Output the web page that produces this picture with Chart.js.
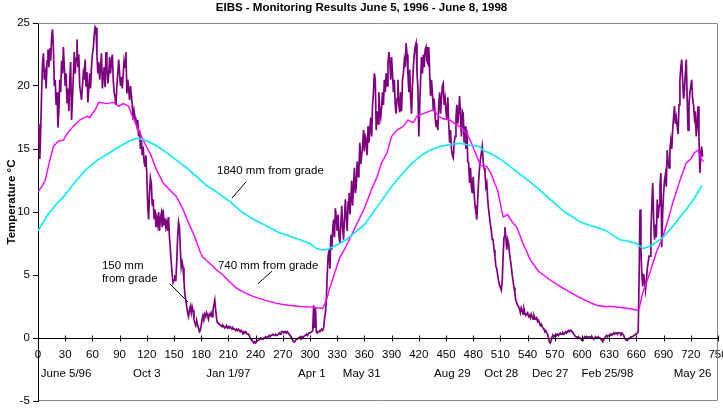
<!DOCTYPE html>
<html><head><meta charset="utf-8">
<script src="https://cdn.jsdelivr.net/npm/chart.js@4/dist/chart.umd.min.js"></script>
<style>html,body{margin:0;padding:0;background:#fff}</style>
</head><body>
<canvas id="c" width="723" height="413"></canvas>
<script>
const chartTitle = 'EIBS - Monitoring Results June 5, 1996 - June 8, 1998';
const yAxisTitle = 'Temperature °C';
const xTickValues = [0,30,60,90,120,150,180,210,240,270,300,330,360,390,420,450,480,510,540,570,600,630,660,690,720,750];
const yTickValues = [-5,0,5,10,15,20,25];
const dateLabels = ['June 5/96','Oct 3','Jan 1/97','Apr 1','May 31','Aug 29','Oct 28','Dec 27','Feb 25/98','May 26'];
const dateLabelDays = [0,120,210,300,360,450,510,570,630,720];
const seriesNames = ['150 mm from grade','740 mm from grade','1840 mm from grade'];

// 150 mm from grade: daily readings, day 0 = June 5, 1996
const temp150 = [
15.5,17.0,14.2,16.5,19.5,21.8,22.6,20.5,21.0,19.8,
22.0,22.9,21.5,23.0,22.0,23.8,24.5,23.0,20.0,20.5,
18.5,19.5,16.7,18.0,20.5,19.5,22.0,21.0,23.1,21.5,
20.0,21.0,18.7,19.8,18.0,20.5,21.9,17.3,19.0,20.8,
22.7,21.0,22.2,23.7,21.5,22.5,20.0,19.5,18.9,20.0,
21.0,20.5,22.1,20.0,21.1,18.7,19.8,21.0,19.8,21.5,
22.5,23.0,24.0,24.7,24.6,22.5,21.0,21.9,20.5,21.5,
22.6,19.8,20.8,21.5,19.9,22.7,21.5,20.2,20.9,22.3,
21.0,22.0,22.5,20.5,19.5,19.1,18.5,20.0,21.0,22.1,
21.0,20.0,20.7,19.8,21.0,22.0,21.5,22.7,19.4,20.5,
19.8,18.9,20.0,19.2,18.5,17.3,18.0,17.5,17.1,16.8,
17.3,16.0,16.5,15.0,15.8,14.5,15.2,14.0,13.6,14.5,
13.0,10.5,9.4,11.5,12.7,12.3,10.5,11.0,9.5,10.2,
8.8,9.5,9.0,10.0,8.5,9.5,9.9,8.8,10.2,9.0,
9.5,8.8,9.2,8.5,9.6,8.0,7.0,6.0,5.0,4.4,
4.6,5.0,4.5,6.0,8.0,9.2,8.8,7.0,5.6,6.0,
5.6,4.5,3.5,3.0,2.5,2.0,1.7,2.2,2.5,2.0,
2.5,2.2,1.5,1.2,1.0,1.4,1.0,0.8,0.5,0.6,
1.0,1.5,1.8,1.6,1.9,1.7,2.0,1.8,1.5,1.9,
1.8,2.0,1.7,2.2,2.6,3.0,2.2,1.5,1.2,1.2,
1.1,1.0,1.0,0.9,1.0,0.9,0.8,0.9,1.0,0.8,
0.9,0.8,0.9,0.8,0.7,0.8,0.7,0.7,0.6,0.7,
0.6,0.7,0.6,0.5,0.6,0.5,0.4,0.5,0.4,0.5,
0.4,0.3,0.3,0.2,0.0,-0.1,-0.2,-0.3,-0.4,-0.3,
-0.4,-0.3,-0.2,-0.2,-0.1,-0.1,0.0,0.0,-0.1,0.0,
0.0,0.1,0.0,0.1,0.1,0.2,0.1,0.2,0.2,0.3,
0.2,0.2,0.3,0.2,0.2,0.3,0.4,0.3,0.4,0.5,
0.5,0.4,0.5,0.5,0.4,0.5,0.4,0.3,0.2,0.1,
0.0,-0.2,-0.3,-0.3,-0.2,-0.1,-0.1,0.0,0.0,0.1,
0.0,0.1,0.0,0.1,0.2,0.2,0.3,0.2,0.3,0.4,
0.4,0.4,0.5,0.6,2.6,0.8,2.4,0.5,0.4,0.5,
0.5,0.6,0.6,0.7,0.6,0.8,1.5,2.0,3.0,5.0,
6.5,7.0,5.5,8.2,7.0,8.5,9.4,8.0,10.3,9.5,
8.5,9.8,8.0,7.5,9.0,10.5,8.8,7.8,9.5,11.0,
9.5,8.5,10.8,11.5,9.8,11.0,12.5,10.5,12.0,13.5,
11.5,12.0,14.0,12.8,13.5,15.5,13.8,14.5,15.2,16.5,
14.8,16.0,15.7,14.5,16.8,15.5,16.5,17.5,16.0,18.5,
19.5,21.0,20.5,16.5,18.0,17.0,19.5,18.0,17.5,18.4,
19.5,18.5,20.5,19.5,21.0,20.0,21.8,22.7,22.0,20.5,
22.3,21.0,19.5,20.5,18.5,17.8,19.0,20.5,18.5,17.9,
19.5,18.0,20.5,21.0,22.0,21.5,23.4,22.5,21.0,19.5,
21.3,19.0,17.8,20.0,21.5,22.5,23.1,23.4,21.0,19.9,
16.0,18.5,20.5,22.3,21.0,22.5,21.5,22.9,23.1,22.0,
21.8,23.1,21.0,19.2,20.5,19.5,18.0,19.0,17.5,16.8,
17.3,16.5,18.5,19.5,17.8,19.0,20.0,20.2,18.5,19.0,
18.0,17.3,19.1,17.0,15.5,16.5,15.0,14.5,14.3,15.5,
16.0,17.5,18.5,17.0,18.0,19.2,17.5,16.0,18.0,17.8,
15.5,16.8,15.0,16.5,14.0,13.9,12.3,13.5,12.0,11.5,
12.8,11.5,10.5,10.0,9.4,11.0,12.5,13.5,14.2,14.7,
15.2,14.0,13.5,13.1,12.0,12.3,11.0,10.2,9.6,9.0,
8.5,7.8,7.8,7.0,6.5,5.7,5.5,5.0,4.5,4.2,
4.0,3.8,4.5,6.5,8.0,8.8,8.0,7.0,7.8,7.5,
6.8,6.2,5.7,5.0,4.5,4.0,3.5,3.0,2.8,2.6,
2.5,2.3,2.0,2.4,2.2,1.9,2.3,2.0,1.8,1.9,
2.0,1.7,1.8,1.6,1.9,1.7,1.5,1.8,1.6,1.5,
1.6,1.3,1.4,1.2,1.0,1.1,0.9,0.8,0.7,0.5,
0.6,0.4,0.3,0.0,-0.3,-0.4,-0.2,0.1,0.2,0.1,
0.2,0.3,0.2,0.3,0.2,0.3,0.4,0.3,0.3,0.4,
0.3,0.4,0.5,0.4,0.5,0.6,0.5,0.6,0.6,0.5,
0.4,0.3,0.2,0.1,0.1,0.0,0.1,0.0,0.0,-0.1,
-0.2,-0.1,0.0,0.1,0.0,0.1,0.0,0.1,0.1,0.1,
0.0,0.1,0.0,-0.1,0.0,0.1,0.0,0.0,0.1,0.0,
0.0,-0.1,-0.2,-0.3,-0.1,0.0,0.1,0.2,0.1,0.2,
0.2,0.3,0.2,0.3,0.3,0.4,0.3,0.4,0.4,0.3,
0.4,0.4,0.4,0.3,0.4,0.3,0.2,0.0,-0.1,-0.2,
-0.2,-0.1,0.0,0.0,0.1,0.1,0.1,0.2,0.2,0.3,
0.3,0.4,0.5,5.0,10.2,7.0,5.0,4.1,5.1,4.5,
3.8,4.5,5.5,6.0,6.5,6.5,8.5,10.5,12.3,9.5,
7.8,9.0,8.0,11.0,9.5,10.5,12.0,13.1,7.2,10.0,
11.5,12.5,13.0,12.0,14.9,14.0,13.5,15.0,15.7,15.0,
16.5,17.5,18.4,17.0,17.5,16.8,16.2,18.5,20.5,21.5,
22.1,20.5,19.0,19.7,21.0,22.1,19.0,16.5,18.5,19.5,
20.0,20.5,19.0,18.5,17.5,18.0,16.0,17.0,18.4,16.0,
13.1,14.5,15.2,14.4
];

// 740 mm from grade
const days740 = [0,4,8,12,17,22,28,32,39,46,54,57,63,67,76,83,89,94,100,103,111,118,124,131,138,146,153,160,168,172,179,182,190,197,204,212,220,228,237,250,263,276,289,302,314,318,322,326,333,340,350,360,368,374,379,385,390,396,403,408,414,418,425,432,436,442,447,454,460,465,473,478,484,488,495,500,507,513,518,523,528,535,543,552,565,578,590,603,616,625,634,645,655,660,663,667,675,682,689,695,700,708,715,720,724,728,731,734];
const temp740 = [11.6,12.0,12.5,13.8,15.2,15.6,15.7,16.2,16.8,17.3,17.6,17.5,18.1,18.7,18.6,18.7,18.4,18.6,18.4,17.8,16.5,15.4,14.6,13.3,12.3,11.7,11.2,10.2,8.8,8.2,6.8,6.4,5.9,5.4,5.0,4.4,3.9,3.6,3.3,3.0,2.75,2.6,2.5,2.45,2.35,3.0,4.0,4.9,6.4,7.3,8.8,10.3,11.8,12.8,13.9,14.7,16.0,16.5,16.8,17.3,17.1,17.6,17.8,18.0,18.1,17.6,17.4,17.3,17.0,16.8,16.25,15.5,14.4,13.7,13.6,13.0,11.7,9.6,9.8,9.2,8.8,7.5,6.2,5.3,4.6,4.0,3.5,3.0,2.6,2.5,2.5,2.4,2.3,2.2,2.3,3.6,5.2,6.8,8.0,9.4,10.7,12.5,13.9,14.2,14.7,14.9,14.3,14.0];

// 1840 mm from grade
const days1840 = [0,10,20,28,40,52,65,79,90,100,109,118,130,142,153,164,175,186,197,212,225,238,252,265,277,289,300,307,312,318,324,330,340,350,360,370,380,390,399,410,421,432,443,454,465,476,487,491,500,510,517,528,541,554,568,581,590,598,610,620,627,635,642,650,660,664,667,672,678,688,697,706,715,724,732];
const temp1840 = [8.5,9.7,10.6,11.2,12.3,13.3,14.1,14.7,15.2,15.6,15.85,15.7,15.3,14.7,14.1,13.5,12.8,12.1,11.6,10.8,10.0,9.4,8.9,8.4,8.1,7.8,7.5,7.1,7.0,7.0,7.2,7.4,7.8,8.4,9.0,10.0,11.0,12.0,12.8,13.7,14.4,14.9,15.2,15.35,15.45,15.3,15.2,14.9,14.6,14.2,13.8,13.2,12.5,11.7,10.8,10.0,9.6,9.2,8.9,8.7,8.5,8.1,7.8,7.7,7.5,7.3,7.1,7.2,7.4,7.9,8.6,9.4,10.2,11.1,12.1];

const FONT = "'Liberation Sans', Arial, Helvetica, sans-serif";
Chart.defaults.font.family = FONT;
Chart.defaults.font.size = 11.5;
Chart.defaults.color = '#000';

// callout texts (anchored in data units) and leader lines
const callouts = [
  {lines: ['1840 mm from grade'], at: [197.5, 13.25], leader: [[214, 11.1], [229.5, 12.4]]},
  {lines: ['740 mm from grade'], at: [198.5, 5.7], leader: [[242.5, 4.3], [258, 5.3]]},
  {lines: ['150 mm', 'from grade'], at: [70.5, 5.7], leader: [[145.5, 4.3], [165.5, 2.85]]}
];
const dateLabelAnchor = [31, 120, 210, 302, 357, 457, 511, 565, 628, 722];

const overlay = {
  id: 'overlay',
  afterDraw(chart) {
    const {ctx, chartArea: a, scales: {x, y}} = chart;
    ctx.save();
    // plot frame
    ctx.strokeStyle = '#8a8a8a';
    ctx.lineWidth = 1;
    ctx.beginPath();
    ctx.moveTo(a.left, Math.round(a.top) + 0.5);
    ctx.lineTo(Math.round(a.right) - 0.5, Math.round(a.top) + 0.5);
    ctx.lineTo(Math.round(a.right) - 0.5, Math.round(a.bottom) - 0.5);
    ctx.lineTo(a.left + 1, Math.round(a.bottom) - 0.5);
    ctx.stroke();
    // x axis at 0 with crossing ticks
    const y0 = Math.round(y.getPixelForValue(0)) + 0.5;
    ctx.strokeStyle = '#000';
    ctx.beginPath();
    ctx.moveTo(a.left, y0); ctx.lineTo(a.right, y0);
    xTickValues.forEach(v => {
      const px = Math.round(x.getPixelForValue(v)) + 0.5;
      ctx.moveTo(px, y0 - 3); ctx.lineTo(px, y0 + 3);
    });
    ctx.stroke();
    // title
    ctx.fillStyle = '#000';
    ctx.font = 'bold 11.5px ' + FONT;
    ctx.textAlign = 'center';
    ctx.textBaseline = 'middle';
    ctx.fillText(chartTitle, chart.width / 2, 8);
    // y axis title
    ctx.save();
    ctx.translate(12, (a.top + a.bottom) / 2 - 10);
    ctx.rotate(-Math.PI / 2);
    ctx.fillText(yAxisTitle, 0, 0);
    ctx.restore();
    // date labels
    ctx.font = '11.5px ' + FONT;
    dateLabels.forEach((t, i) => {
      ctx.fillText(t, x.getPixelForValue(dateLabelAnchor[i]), y0 + 35);
    });
    // callouts
    ctx.textAlign = 'left';
    callouts.forEach(c => {
      c.lines.forEach((ln, k) => {
        ctx.fillText(ln, x.getPixelForValue(c.at[0]), y.getPixelForValue(c.at[1]) + k * 13);
      });
      ctx.beginPath();
      ctx.moveTo(x.getPixelForValue(c.leader[0][0]), y.getPixelForValue(c.leader[0][1]));
      ctx.lineTo(x.getPixelForValue(c.leader[1][0]), y.getPixelForValue(c.leader[1][1]));
      ctx.lineWidth = 1;
      ctx.strokeStyle = '#000';
      ctx.stroke();
    });
    ctx.restore();
  }
};

new Chart(document.getElementById('c'), {
  type: 'line',
  data: {
    datasets: [
      {label: seriesNames[2], data: days1840.map((d, i) => ({x: d, y: temp1840[i]})), borderColor: '#00f0f0', borderWidth: 1.6, pointRadius: 0, fill: false, tension: 0},
      {label: seriesNames[1], data: days740.map((d, i) => ({x: d, y: temp740[i]})), borderColor: '#ff00ff', borderWidth: 1.4, pointRadius: 0, fill: false, tension: 0},
      {label: seriesNames[0], data: temp150.map((t, i) => ({x: i, y: t})), borderColor: '#7f007f', borderWidth: 1.7, pointRadius: 0, fill: false, tension: 0}
    ]
  },
  options: {
    responsive: false,
    animation: false,
    devicePixelRatio: 1,
    layout: {padding: {left: 0, right: 5, top: 23, bottom: 12}},
    plugins: {legend: {display: false}, title: {display: false}, tooltip: {enabled: false}},
    scales: {
      x: {
        type: 'linear', position: {y: 0}, min: 0, max: 750,
        afterBuildTicks: s => { s.ticks = xTickValues.map(v => ({value: v})); },
        ticks: {autoSkip: false, maxRotation: 0, padding: 10, color: '#000', font: {size: 11.5}},
        grid: {display: false, drawTicks: false},
        border: {display: false},
        afterFit: s => { s.height = 0; s.paddingLeft = 0; s.paddingRight = 0; }
      },
      y: {
        type: 'linear', min: -5, max: 25,
        afterBuildTicks: s => { s.ticks = yTickValues.map(v => ({value: v})); },
        ticks: {padding: 3, color: '#000', font: {size: 11.5}},
        grid: {drawOnChartArea: false, tickLength: 5, color: '#000'},
        border: {color: '#000', width: 1},
        afterFit: s => { s.width = 38; }
      }
    }
  },
  plugins: [overlay]
});
</script>
</body></html>
